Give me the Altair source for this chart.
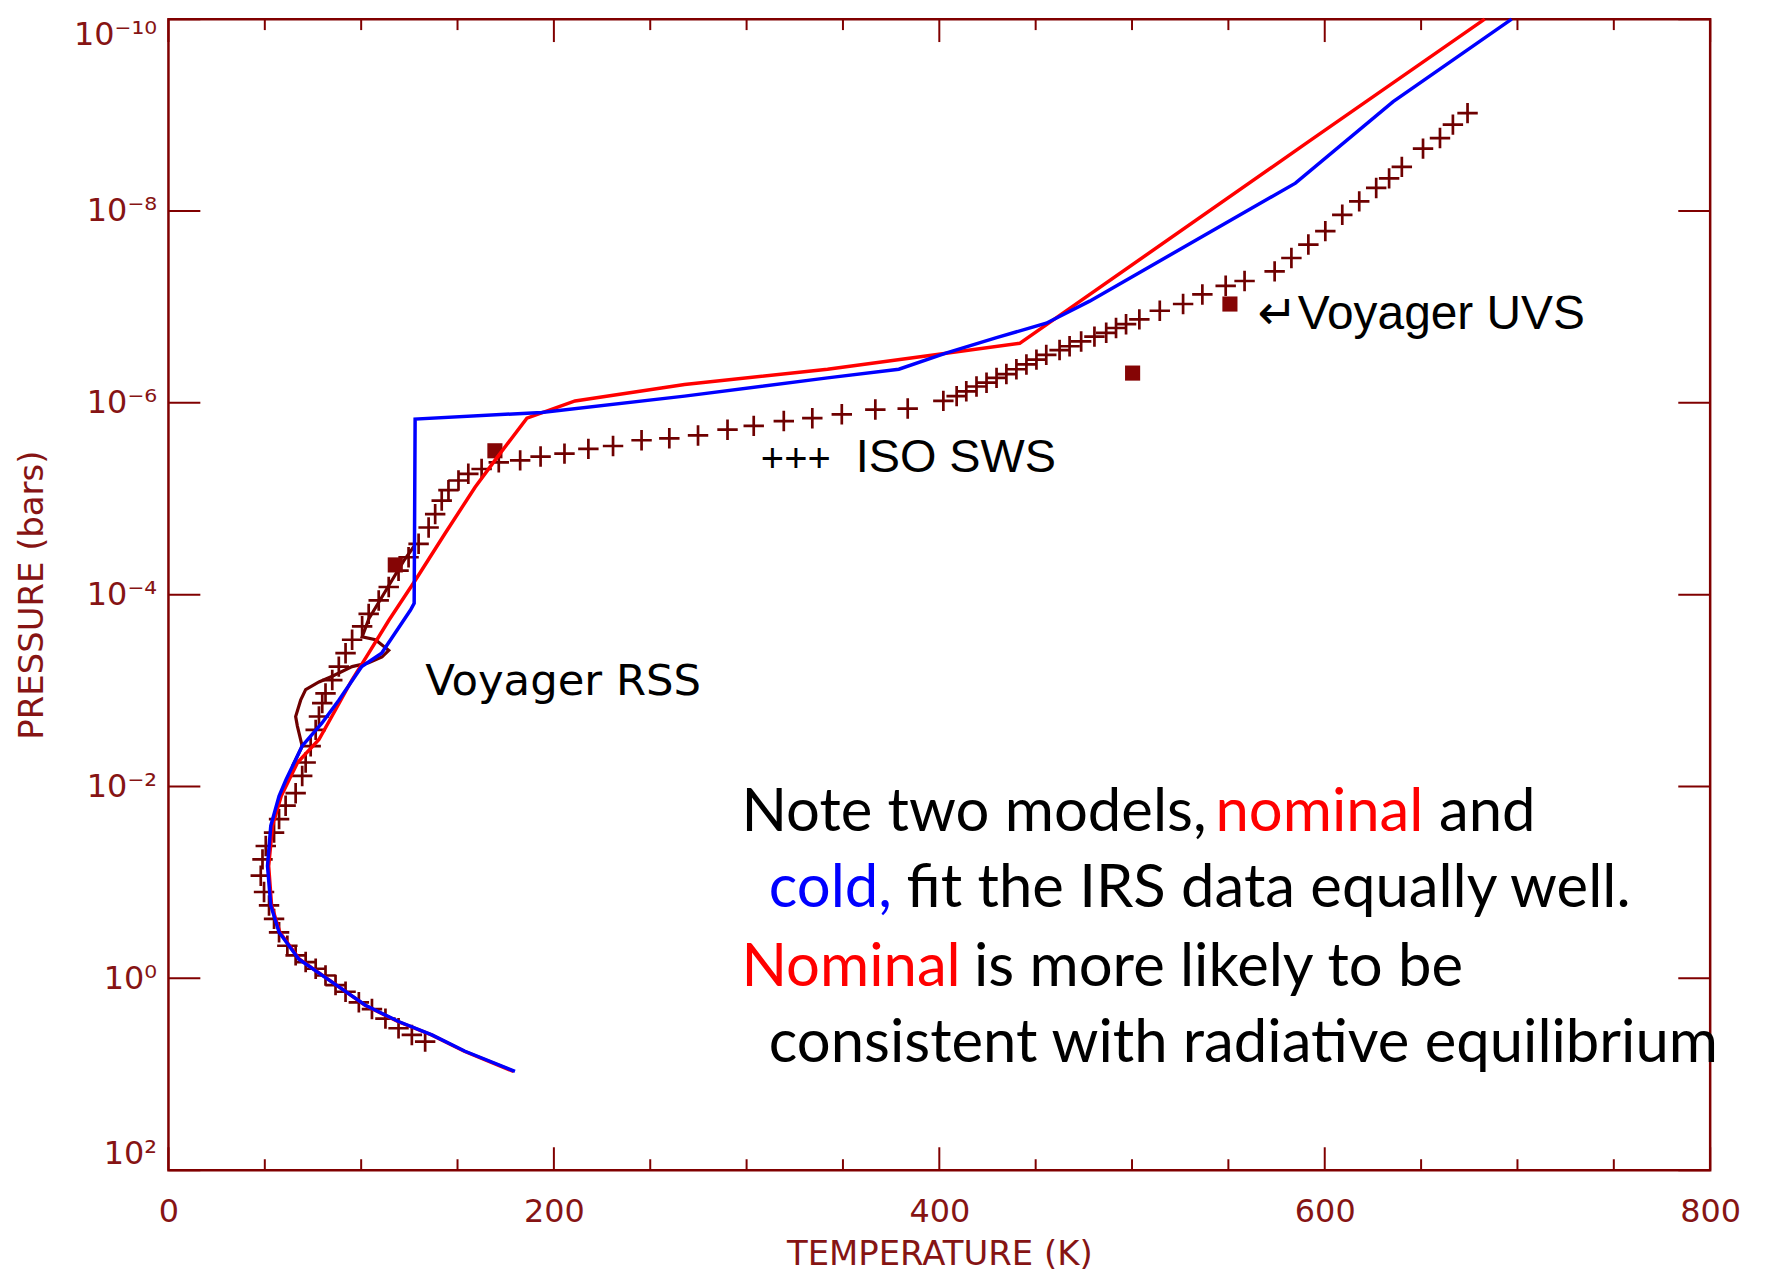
import altair as alt
import pandas as pd

# ---------------- data (T in K, log10 of P in bars) ----------------
nominal_T = [683, 591.4, 441.7, 394, 342, 267.8, 211, 186, 169.4, 159.1, 143.6, 128.1, 114.3,
             103.9, 95.2, 86.7, 78.1, 67, 58.5, 54, 52, 53.5, 57.8, 68, 85, 102, 119, 136.5, 153.5, 179]
nominal_logP = [-10.0, -8.72, -6.62, -6.49, -6.35, -6.19, -6.02, -5.84, -5.40, -5.12, -4.64, -4.15, -3.73,
                -3.39, -3.11, -2.80, -2.49, -2.25, -1.90, -1.59, -1.17, -0.76, -0.48, -0.20, 0.04, 0.28, 0.45,
                0.59, 0.76, 0.97]

cold_T = [697, 635.5, 584.8, 478, 455.5, 429.7, 403.8, 379, 342, 267.8, 193.6, 128, 127.5, 125.6,
          110.6, 100.3, 88.4, 79.6, 69.3, 66, 61.0, 57.4, 53.1, 51.4, 53.1, 57.4, 67.7, 84.9, 102.2,
          119.4, 136.7, 153.9, 179.8]
cold_logP = [-10.0, -9.14, -8.29, -7.06, -6.83, -6.68, -6.52, -6.35, -6.26, -6.07, -5.90, -5.83, -3.91,
             -3.84, -3.39, -3.25, -2.90, -2.66, -2.42, -2.28, -2.07, -1.90, -1.59, -1.17, -0.76, -0.48,
             -0.20, 0.04, 0.28, 0.45, 0.59, 0.76, 0.97]

iso_T = [133.2, 126.3, 119.4, 112.6, 105.6, 98.8, 91.9, 86.7, 81.5, 76.4, 71.2, 66.0, 61.7, 57.4, 54.8,
         52.2, 49.6, 47.9, 48.8, 50.5, 54.8, 57.4, 60.8, 66.0, 69.4, 71.2, 73.8, 76.4, 78.1, 79.8, 81.5,
         85.0, 88.4, 91.9, 95.3, 100.5, 103.9, 109.1, 114.3, 119.4, 124.6, 129.8, 135.0, 138.4, 141.8,
         145.3, 150.5, 155.6, 162.5,
         171.4, 182.5, 193.1, 205.5, 217.9, 230.7, 245.5, 259.9, 274.8, 290.1, 303.7, 319.3, 334.1,
         349.4, 366.8, 383.6,
         402.1, 409, 414, 419.3, 424.5, 429.7, 434.8, 440, 445.2, 450.4, 455.5, 462.4, 467.6, 473.6,
         480.5, 486.6, 491.7, 496.9, 503.8, 514.4, 526.5, 536.5, 548.6, 558.4, 574.0, 582.7, 591.5,
         600.3, 609.1, 617.9, 626.7, 633.4, 640.0, 651.0, 659.8, 666.5, 674.1]
iso_logP = [0.66, 0.59, 0.52, 0.42, 0.32, 0.25, 0.14, 0.07, -0.03, -0.10, -0.17, -0.24, -0.34, -0.48,
            -0.62, -0.76, -0.90, -1.07, -1.24, -1.38, -1.52, -1.66, -1.80, -1.93, -2.11, -2.25, -2.42,
            -2.59, -2.73, -2.87, -2.97, -3.11, -3.25, -3.39, -3.53, -3.67, -3.80, -3.94, -4.08, -4.25,
            -4.39, -4.53, -4.70, -4.84, -4.98, -5.09, -5.19, -5.26, -5.31,
            -5.38, -5.40, -5.44, -5.47, -5.52, -5.55, -5.61, -5.63, -5.66, -5.72, -5.76, -5.81, -5.84,
            -5.88, -5.93, -5.94,
            -6.02, -6.07, -6.12, -6.17, -6.21, -6.26, -6.30, -6.35, -6.40, -6.45, -6.50, -6.55, -6.59,
            -6.64, -6.69, -6.73, -6.78, -6.82, -6.87, -6.96, -7.03, -7.13, -7.22, -7.27, -7.37, -7.51,
            -7.65, -7.79, -7.96, -8.10, -8.24, -8.34, -8.46, -8.65, -8.76, -8.90, -9.02]

uvs_T = [169.4, 117.7, 500.3, 550.8]
uvs_logP = [-5.50, -4.31, -6.31, -7.03]

rss_T = [64.3, 69.4, 66.9, 66.0, 68.6, 71.2, 78.1, 85.0, 95.3, 103.9, 110.8, 114.3, 107.4, 100.5,
         104, 110, 116, 122, 128]
rss_logP = [-2.21, -2.42, -2.63, -2.73, -2.90, -3.01, -3.09, -3.15, -3.25, -3.29, -3.35, -3.42, -3.53,
            -3.56, -3.75, -3.95, -4.15, -4.35, -4.52]

x_major_ticks = [0, 200, 400, 600, 800]
x_minor_ticks = [50, 100, 150, 250, 300, 350, 450, 500, 550, 650, 700, 750]
y_tick_exponents = [-10, -8, -6, -4, -2, 0, 2]
y_tick_labels = ["10⁻¹⁰", "10⁻⁸", "10⁻⁶", "10⁻⁴", "10⁻²", "10⁰", "10²"]

# annotation texts
label_texts = ["↵Voyager UVS", "+++", "ISO SWS", "Voyager RSS"]
label_T = [565.2, 307.4, 356.6, 133.2]
label_logP = [-6.766, -5.276, -5.276, -2.956]
label_sizes = [48, 40, 47, 43.5]
label_fonts = ["Liberation Sans, DejaVu Sans", "Liberation Sans", "Liberation Sans", "DejaVu Sans"]

note_texts = ["Note two models,", "nominal", "and",
              "cold,", "fit the IRS data equally well.",
              "Nominal", "is more likely to be",
              "consistent with radiative equilibrium"]
note_T = [297.3, 543.3, 659.3, 311.5, 383.0, 297.3, 418.0, 311.5]
note_logP = [-1.536, -1.536, -1.536, -0.740, -0.740, 0.075, 0.075, 0.871]
note_colors = ["#000000", "#ff0000", "#000000", "#0000ff", "#000000", "#ff0000", "#000000", "#000000"]

# ---------------- chart ----------------
W, H = 1547, 1155
MAROON = "#800000"
TEXTC = "#861414"
MARK = "#6e0000"


def prof(T, logP):
    return pd.DataFrame({"T": T, "P": [10.0 ** v for v in logP], "order": list(range(len(T)))})


xs = alt.Scale(domain=[0, 800], nice=False, zero=False)
ys = alt.Scale(type="log", domain=[1e-10, 1e2], reverse=True, nice=False)

label_expr = " : ".join(
    f"round(log(datum.value)/LN10) == {e} ? '{t}'" for e, t in zip(y_tick_exponents, y_tick_labels)
) + " : ''"

x_axis = alt.Axis(values=x_major_ticks, format="d", title="TEMPERATURE (K)", labelFlush=False,
                  labelPadding=26, labelFontSize=32, titleFontSize=34, titleY=95,
                  titleBaseline="alphabetic", domain=False, grid=False, ticks=False,
                  labelFont="DejaVu Sans", labelColor=TEXTC, titleFont="DejaVu Sans",
                  titleColor=TEXTC, titleFontWeight="normal")
y_axis = alt.Axis(values=[10.0 ** e for e in y_tick_exponents], labelExpr=label_expr,
                  title="PRESSURE (bars)", labelFlush=True, labelPadding=12, labelFontSize=32,
                  titleFontSize=34, titleX=-126, titleBaseline="alphabetic", domain=False, grid=False,
                  ticks=False, labelFont="DejaVu Sans", labelColor=TEXTC, titleFont="DejaVu Sans",
                  titleColor=TEXTC, titleFontWeight="normal")


def X():
    return alt.X("T:Q", scale=xs, axis=x_axis)


def Y():
    return alt.Y("P:Q", scale=ys, axis=y_axis)


iso = alt.Chart(prof(iso_T, iso_logP)).mark_point(
    shape="M-1,0L1,0M0,-1L0,1", filled=False, size=420, strokeWidth=2.7, color=MARK, opacity=1
).encode(x=X(), y=Y())

rss = alt.Chart(prof(rss_T, rss_logP)).mark_line(color=MARK, strokeWidth=3.2).encode(
    x=X(), y=Y(), order="order:Q")

uvs = alt.Chart(prof(uvs_T, uvs_logP)).mark_point(
    shape="square", filled=True, size=230, color="#850505", opacity=1
).encode(x=X(), y=Y())

nominal = alt.Chart(prof(nominal_T, nominal_logP)).mark_line(color="#ff0000", strokeWidth=3.5).encode(
    x=X(), y=Y(), order="order:Q")
cold = alt.Chart(prof(cold_T, cold_logP)).mark_line(color="#0000ff", strokeWidth=3.5).encode(
    x=X(), y=Y(), order="order:Q")

xmaj = pd.DataFrame({"T": x_major_ticks})
xmin = pd.DataFrame({"T": x_minor_ticks})
yt = pd.DataFrame({"P": [10.0 ** e for e in y_tick_exponents]})
tick = dict(color=MAROON, strokeWidth=2)
ticks = [
    alt.Chart(xmaj).mark_rule(**tick).encode(x=X(), y=alt.value(H), y2=alt.value(H - 23)),
    alt.Chart(xmin).mark_rule(**tick).encode(x=X(), y=alt.value(H), y2=alt.value(H - 11)),
    alt.Chart(xmaj).mark_rule(**tick).encode(x=X(), y=alt.value(0), y2=alt.value(23)),
    alt.Chart(xmin).mark_rule(**tick).encode(x=X(), y=alt.value(0), y2=alt.value(11)),
    alt.Chart(yt).mark_rule(**tick).encode(y=Y(), x=alt.value(0), x2=alt.value(32)),
    alt.Chart(yt).mark_rule(**tick).encode(y=Y(), x=alt.value(W - 32), x2=alt.value(W)),
]

labels = []
for txt, t, lp, sz, fnt in zip(label_texts, label_T, label_logP, label_sizes, label_fonts):
    d = pd.DataFrame({"T": [t], "P": [10.0 ** lp], "label": [txt]})
    labels.append(alt.Chart(d).mark_text(align="left", baseline="alphabetic", fontSize=sz, font=fnt,
                                         color="#000000").encode(x=X(), y=Y(), text="label:N"))

notes_df = pd.DataFrame({"T": note_T, "P": [10.0 ** v for v in note_logP], "label": note_texts,
                         "c": note_colors})
notes = alt.Chart(notes_df).mark_text(align="left", baseline="alphabetic", fontSize=60, font="Lato").encode(
    x=X(), y=Y(), text="label:N", color=alt.Color("c:N", scale=None))

chart = alt.layer(iso, *ticks, rss, uvs, nominal, cold, *labels, notes).properties(
    width=W, height=H,
    autosize=alt.AutoSizeParams(type="none"),
    padding={"left": 161, "top": 9, "right": 50, "bottom": 104},
).configure_view(stroke=MAROON, strokeWidth=2.5)

chart.save("out.html", embed_options={"renderer": "svg", "actions": False})
